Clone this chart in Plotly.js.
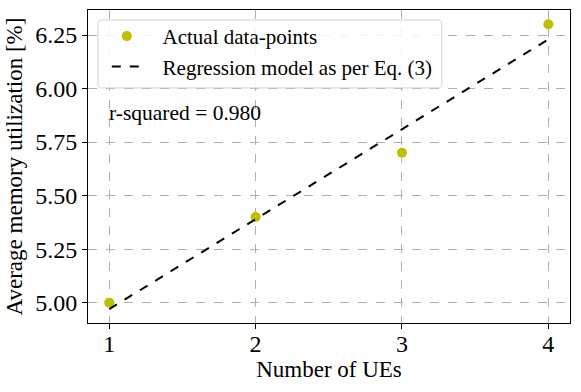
<!DOCTYPE html>
<html>
<head>
<meta charset="utf-8">
<script src="https://cdn.plot.ly/plotly-3.0.1.min.js"></script>
<style>
  html, body { margin: 0; padding: 0; background: #fff; }
  #chart { width: 581px; height: 392px; }
</style>
</head>
<body>
<div id="chart"></div>
<script>
// measured points
const numUEs = [1, 2, 3, 4];
const memUtil = [5.0, 5.4, 5.7, 6.3];

// regression line endpoints (Eq. 3)
const regX = [1, 4];
const regY = [4.97, 6.23];

const rSquared = '0.980';
const yTicks = [5.0, 5.25, 5.5, 5.75, 6.0, 6.25];

const serif = "'Liberation Serif', 'Times New Roman', serif";
const pad = '&nbsp;&nbsp;&nbsp;'; // push legend text right, like matplotlib's handle gap

const traces = [
  {
    x: numUEs, y: memUtil,
    type: 'scatter', mode: 'markers',
    name: pad + 'Actual data-points',
    marker: { color: '#bfbf00', size: 10 }
  },
  {
    x: regX, y: regY,
    type: 'scatter', mode: 'lines',
    name: pad + 'Regression model as per Eq. (3)',
    line: { color: '#000', width: 2, dash: 'dash' }
  }
];

const axisBase = {
  showline: true, linecolor: '#000', linewidth: 1, mirror: true,
  ticks: 'outside', ticklen: 5, tickcolor: '#000',
  showgrid: true, gridcolor: '#b0b0b0', griddash: 'dash', gridwidth: 1,
  zeroline: false,
  tickfont: { family: serif, size: 24, color: '#000' }
};

// rounded legend frame, like matplotlib's fancybox
function roundBox(x0, y0, x1, y1, rx, ry) {
  return `M${x0 + rx},${y0} L${x1 - rx},${y0} Q${x1},${y0} ${x1},${y0 + ry} ` +
         `L${x1},${y1 - ry} Q${x1},${y1} ${x1 - rx},${y1} L${x0 + rx},${y1} ` +
         `Q${x0},${y1} ${x0},${y1 - ry} L${x0},${y0 + ry} Q${x0},${y0} ${x0 + rx},${y0} Z`;
}

const layout = {
  width: 581, height: 392,
  margin: { l: 88, r: 11, t: 10, b: 69 },
  paper_bgcolor: '#fff', plot_bgcolor: '#fff',
  font: { family: serif, color: '#000' },
  showlegend: true,
  legend: {
    x: 0.039, y: 0.981, xanchor: 'left', yanchor: 'top',
    bgcolor: 'rgba(0,0,0,0)', borderwidth: 0,
    font: { family: serif, size: 21, color: '#000' },
    tracegroupgap: 0, itemwidth: 30
  },
  shapes: [{
    type: 'path', xref: 'paper', yref: 'paper', layer: 'above',
    path: roundBox(0.0207, 0.751, 0.734, 0.968, 0.009, 0.013),
    fillcolor: 'rgba(255,255,255,0.85)',
    line: { color: '#d0d0d0', width: 1 }
  }],
  xaxis: {
    ...axisBase,
    range: [0.855, 4.148],
    tickvals: numUEs,
    ticklabelstandoff: -6,
    title: { text: 'Number of UEs', font: { family: serif, size: 23, color: '#000' }, standoff: 2 }
  },
  yaxis: {
    ...axisBase,
    range: [4.905, 6.367],
    tickvals: yTicks,
    tickformat: '.2f',
    title: { text: 'Average memory utilization [%]', font: { family: serif, size: 23, color: '#000' }, standoff: 6 }
  },
  annotations: [{
    xref: 'paper', yref: 'paper', x: 0.04, y: 0.67,
    xanchor: 'left', yanchor: 'middle', showarrow: false,
    text: 'r-squared = ' + rSquared,
    font: { family: serif, size: 21.5, color: '#000' }
  }]
};

Plotly.newPlot('chart', traces, layout, { displayModeBar: false, staticPlot: true });
</script>
</body>
</html>
